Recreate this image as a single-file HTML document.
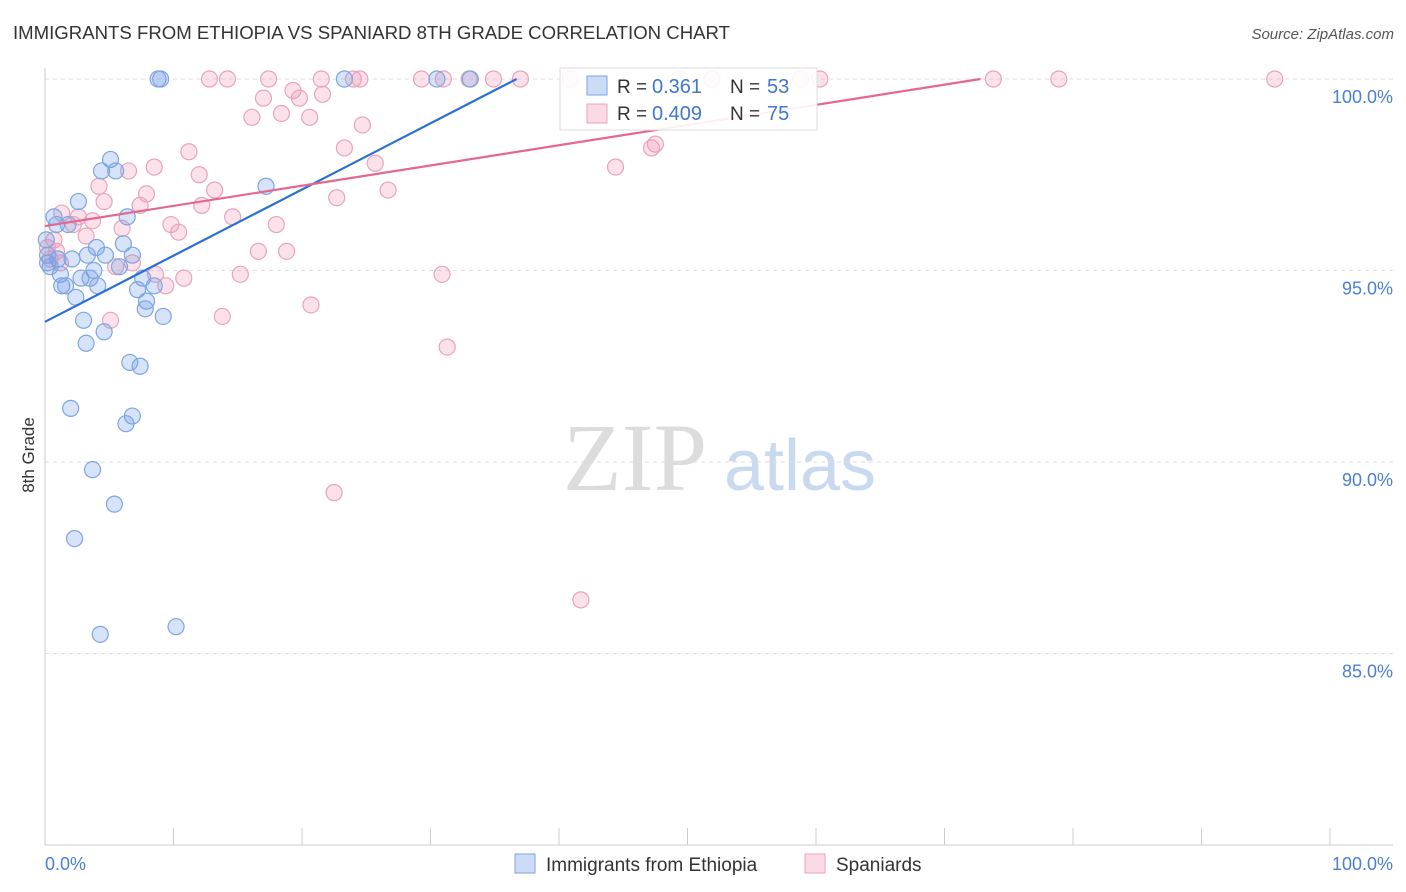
<!DOCTYPE html>
<html><head><meta charset="utf-8"><style>
body{margin:0;background:#fff;font-family:"Liberation Sans",sans-serif;}
#wrap{position:relative;width:1406px;height:892px;overflow:hidden;}
</style></head><body>
<div id="wrap">
<svg id="svg" width="1406" height="892" xmlns="http://www.w3.org/2000/svg"></svg>
</div>
<script>
const blueX=[8.8,9.0,23.3,30.5,33.1,5.1,4.4,5.5,2.6,0.7,6.4,0.9,1.8,17.2,6.1,4.0,0.1,4.7,6.8,1.0,2.1,3.3,0.2,5.8,3.8,1.2,2.8,3.5,7.6,1.3,1.6,4.1,7.2,8.5,2.4,7.9,7.8,9.2,3.0,4.6,3.2,6.6,7.4,2.0,6.8,6.3,3.7,5.4,2.3,4.3,10.2,0.2,0.4];
const blueY=[100,100,100,100,100,97.9,97.6,97.6,96.8,96.4,96.4,96.2,96.2,97.2,95.7,95.6,95.8,95.4,95.4,95.3,95.3,95.4,95.2,95.1,95.0,94.9,94.8,94.8,94.8,94.6,94.6,94.6,94.5,94.6,94.3,94.2,94.0,93.8,93.7,93.4,93.1,92.6,92.5,91.4,91.2,91.0,89.8,88.9,88.0,85.5,85.7,95.4,95.1];
const pinkX=[12.8,14.2,17.4,21.5,24.0,24.5,29.3,31.0,33.0,34.9,37.0,40.9,49.4,51.9,58.8,60.3,73.8,78.9,95.7,19.3,21.6,17.0,19.8,16.1,18.4,20.6,24.7,23.3,11.2,47.5,47.2,44.4,25.7,8.5,12.0,6.5,26.7,4.2,13.2,7.9,22.7,4.6,12.2,7.4,1.3,2.6,3.7,14.6,9.8,18.0,2.2,6.0,10.4,3.2,0.7,0.2,0.9,16.6,18.8,6.8,5.5,8.6,10.8,15.2,30.9,9.4,20.7,5.1,13.8,31.3,22.5,41.7,1.2,0.4];
const pinkY=[100,100,100,100,100,100,100,100,100,100,100,100,100,100,100,100,100,100,100,99.7,99.6,99.5,99.5,99.0,99.1,99.0,98.8,98.2,98.1,98.3,98.2,97.7,97.8,97.7,97.5,97.6,97.1,97.2,97.1,97.0,96.9,96.8,96.7,96.7,96.5,96.4,96.3,96.4,96.2,96.2,96.2,96.1,96.0,95.9,95.8,95.6,95.5,95.5,95.5,95.2,95.1,94.9,94.8,94.9,94.9,94.6,94.1,93.7,93.8,93.0,89.2,86.4,95.2,95.3];
const blueTrendX=[0,36.7], blueTrendY=[93.66,100];
const pinkTrendX=[0,72.8], pinkTrendY=[96.16,100];
const yTicks=[100,95,90,85];
const yTickLabels=["100.0%","95.0%","90.0%","85.0%"];

const svg=document.getElementById('svg');
const NS='http://www.w3.org/2000/svg';
const X=v=>45+v*12.85;
const Y=v=>79+(100-v)*38.3;
function mk(tag,attrs,parent){const e=document.createElementNS(NS,tag);for(const k in attrs)e.setAttribute(k,attrs[k]);(parent||svg).appendChild(e);return e;}

let t=mk('text',{x:13,y:39,'font-size':18.6,fill:'#333'});t.textContent='IMMIGRANTS FROM ETHIOPIA VS SPANIARD 8TH GRADE CORRELATION CHART';

t=mk('text',{x:1394,y:39,'font-size':15,fill:'#555','font-style':'italic','text-anchor':'end'});t.textContent='Source: ZipAtlas.com';


t=mk('text',{x:635,y:490,'font-size':96,fill:'#dcdcdc','font-family':'Liberation Serif, serif','text-anchor':'middle'});t.textContent='ZIP';

t=mk('text',{x:800,y:490,'font-size':72,fill:'#c9d9f0','text-anchor':'middle'});t.textContent='atlas';


yTicks.forEach((v,i)=>{
 const g=mk('line',{x1:45,x2:1393,y1:Y(v),y2:Y(v),stroke:'#dedede','stroke-dasharray':'4,4'});
 
 const l=mk('text',{x:1393,y:Y(v)+24,'font-size':18,fill:'#4a7fd4','text-anchor':'end'});l.textContent=yTickLabels[i];
 
});
let a=mk('line',{x1:45,x2:45,y1:68,y2:845,stroke:'#ccc'});
a=mk('line',{x1:45,x2:1393,y1:845,y2:845,stroke:'#ccc'});
for(let i=0;i<=10;i++){const tk=mk('line',{x1:X(i*10),x2:X(i*10),y1:828,y2:845,stroke:'#ccc'});}
t=mk('text',{x:45,y:870,'font-size':18,fill:'#4a7fd4'});t.textContent='0.0%';
t=mk('text',{x:1393,y:870,'font-size':18,fill:'#4a7fd4','text-anchor':'end'});t.textContent='100.0%';
t=mk('text',{x:34,y:455,'font-size':17,fill:'#333','text-anchor':'middle',transform:'rotate(-90 34 455)'});t.textContent='8th Grade';


pinkX.forEach((v,i)=>{const c=mk('circle',{cx:X(v),cy:Y(pinkY[i]),r:8,fill:'rgba(240,150,180,0.28)',stroke:'#e9a3bb','stroke-width':1.2});
 });
blueX.forEach((v,i)=>{const c=mk('circle',{cx:X(v),cy:Y(blueY[i]),r:8,fill:'rgba(110,155,230,0.28)',stroke:'#7ea6e0','stroke-width':1.2});
 });
let tl=mk('line',{x1:X(blueTrendX[0]),y1:Y(blueTrendY[0]),x2:X(blueTrendX[1]),y2:Y(blueTrendY[1]),stroke:'#2b6fd6','stroke-width':2.2});

tl=mk('line',{x1:X(pinkTrendX[0]),y1:Y(pinkTrendY[0]),x2:X(pinkTrendX[1]),y2:Y(pinkTrendY[1]),stroke:'#e5668f','stroke-width':2.2});


const lg=mk('g',{});
mk('rect',{x:560,y:68,width:257,height:62,fill:'rgba(255,255,255,0.9)',stroke:'#ddd'},lg);
mk('rect',{x:587,y:76,width:20,height:19,fill:'rgba(110,155,230,0.35)',stroke:'#7ea6e0'},lg);
mk('rect',{x:587,y:104,width:20,height:19,fill:'rgba(240,150,180,0.35)',stroke:'#e9a3bb'},lg);
function rowText(y,r,n){
 let e=mk('text',{x:617,y:y,'font-size':19,fill:'#333'},lg);e.textContent='R = ';
 e=mk('text',{x:652,y:y,'font-size':20,fill:'#3f76d0'},lg);e.textContent=r;
 e=mk('text',{x:730,y:y,'font-size':19,fill:'#333'},lg);e.textContent='N = ';
 e=mk('text',{x:767,y:y,'font-size':20,fill:'#3f76d0'},lg);e.textContent=n;
}
rowText(93,' 0.361','53');rowText(120,'0.409','75');

const bl=mk('g',{});
mk('rect',{x:515,y:854,width:20,height:19,fill:'rgba(110,155,230,0.35)',stroke:'#7ea6e0'},bl);
t=mk('text',{x:546,y:871,'font-size':19,fill:'#333'},bl);t.textContent='Immigrants from Ethiopia';
mk('rect',{x:805,y:854,width:20,height:19,fill:'rgba(240,150,180,0.35)',stroke:'#e9a3bb'},bl);
t=mk('text',{x:836,y:871,'font-size':19,fill:'#333'},bl);t.textContent='Spaniards';
</script>
</body></html>
